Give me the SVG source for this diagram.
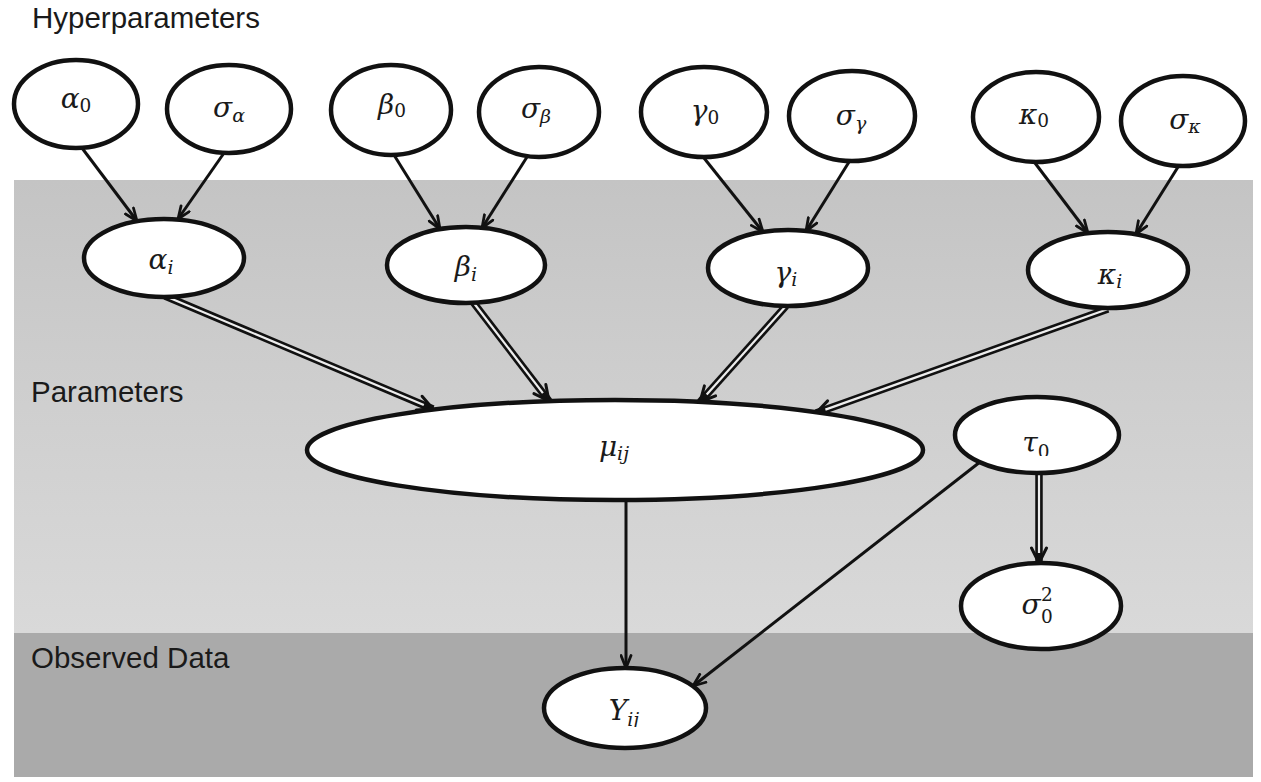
<svg xmlns="http://www.w3.org/2000/svg" width="1261" height="782" viewBox="0 0 1261 782">
  <style>
    .band-label { font-family: "Liberation Sans", Arial, sans-serif; font-size: 29.5px; fill: #1a1a1a; }
    .node ellipse { fill: #ffffff; stroke: #111111; stroke-width: 4.5; }
    .lbl { font-family: "DejaVu Serif", "Liberation Serif", serif; font-style: italic; font-size: 28px; fill: #1a1a1a; }
    .sub { font-size: 19px; }
    .up { font-style: normal; font-size: 18.5px; }
    .single { fill: none; stroke: #111111; stroke-width: 3; marker-end: url(#arr); }
    .dbl-outer { fill: none; stroke: #111111; stroke-width: 7.5; marker-end: url(#arr2); }
    .dbl-inner { fill: none; stroke: #ededed; stroke-width: 2.2; }
  </style>
  <defs>
    <linearGradient id="paramBand" x1="0" y1="0" x2="0" y2="1">
      <stop offset="0" stop-color="#c4c4c4"/>
      <stop offset="0.5" stop-color="#cfcfcf"/>
      <stop offset="1" stop-color="#d9d9d9"/>
    </linearGradient>
    <marker id="arr" viewBox="0 0 15 13" refX="14" refY="6.5" markerWidth="15" markerHeight="13" markerUnits="userSpaceOnUse" orient="auto">
      <path d="M1.5,1.5 L14,6.5 L1.5,11.5" fill="none" stroke="#111111" stroke-width="2.8" stroke-linejoin="round" stroke-linecap="round"/>
    </marker>
    <marker id="arr2" viewBox="0 0 19 19" refX="17" refY="9.5" markerWidth="19" markerHeight="19" markerUnits="userSpaceOnUse" orient="auto">
      <path d="M2,2 L17,9.5 L2,17" fill="none" stroke="#111111" stroke-width="3" stroke-linejoin="round" stroke-linecap="round"/>
    </marker>
    <!-- label boxes that are cut short at the bottom -->
    <clipPath id="clipTau"><rect x="1000" y="415" width="80" height="41"/></clipPath>
    <clipPath id="clipY"><rect x="585" y="685" width="80" height="42"/></clipPath>
  </defs>

  <!-- background layers -->
  <rect x="0" y="0" width="1261" height="782" fill="#ffffff"/>
  <rect x="14" y="180" width="1239" height="453" fill="url(#paramBand)"/>
  <rect x="14" y="633" width="1239" height="144" fill="#aaaaaa"/>

  <text class="band-label" x="32" y="28">Hyperparameters</text>
  <text class="band-label" x="31" y="402">Parameters</text>
  <text class="band-label" x="31" y="668">Observed Data</text>

  <!-- connectors -->
  <g id="connectors">
    <path class="single" d="M82,148 L137,221"/>
    <path class="single" d="M224,153 L178,219"/>
    <path class="single" d="M394,155 L440,229"/>
    <path class="single" d="M527,157 L482,228"/>
    <path class="single" d="M704,158 L763,232"/>
    <path class="single" d="M849,162 L806,231"/>
    <path class="single" d="M1035,163 L1088,233"/>
    <path class="single" d="M1178,167 L1136,234"/>
    <path class="single" d="M626,500 L626,668"/>
    <path class="single" d="M980,462 L693,686"/>

    <path class="dbl-outer" d="M165,296 L433,409"/>
    <path class="dbl-inner" d="M165,296 L423.8,405.1"/>
    <path class="dbl-outer" d="M473,302 L549,401"/>
    <path class="dbl-inner" d="M473,302 L542.9,393.1"/>
    <path class="dbl-outer" d="M786,306 L700,402"/>
    <path class="dbl-inner" d="M786,306 L706.7,394.5"/>
    <path class="dbl-outer" d="M1108,309 L816,413"/>
    <path class="dbl-inner" d="M1108,309 L825.4,409.6"/>
    <path class="dbl-outer" d="M1039,473 L1039,563"/>
    <path class="dbl-inner" d="M1039,473 L1039,553"/>
  </g>

  <!-- hyperparameter nodes -->
  <g id="alpha0" class="node">
    <ellipse cx="76" cy="104" rx="62" ry="44"/>
    <text class="lbl" x="76" y="108" text-anchor="middle">α<tspan class="sub up" dy="4">0</tspan></text>
  </g>
  <g id="sigma-alpha" class="node">
    <ellipse cx="229" cy="109" rx="62" ry="44"/>
    <text class="lbl" x="229" y="117" text-anchor="middle">σ<tspan class="sub" dy="5">α</tspan></text>
  </g>
  <g id="beta0" class="node">
    <ellipse cx="391" cy="110" rx="60" ry="45"/>
    <text class="lbl" x="392" y="114" text-anchor="middle">β<tspan class="sub up" dy="3">0</tspan></text>
  </g>
  <g id="sigma-beta" class="node">
    <ellipse cx="539" cy="112" rx="60" ry="45"/>
    <text class="lbl" x="536" y="118" text-anchor="middle">σ<tspan class="sub" dy="5">β</tspan></text>
  </g>
  <g id="gamma0" class="node">
    <ellipse cx="704" cy="112" rx="63" ry="45"/>
    <text class="lbl" x="705" y="120" text-anchor="middle">γ<tspan class="sub up" dy="4">0</tspan></text>
  </g>
  <g id="sigma-gamma" class="node">
    <ellipse cx="852" cy="116" rx="63" ry="45"/>
    <text class="lbl" x="851" y="125" text-anchor="middle">σ<tspan class="sub" dy="5">γ</tspan></text>
  </g>
  <g id="kappa0" class="node">
    <ellipse cx="1036" cy="117" rx="63" ry="45"/>
    <text class="lbl" x="1034" y="124" text-anchor="middle">κ<tspan class="sub up" dy="3">0</tspan></text>
  </g>
  <g id="sigma-kappa" class="node">
    <ellipse cx="1183" cy="121" rx="62" ry="45"/>
    <text class="lbl" x="1185" y="129" text-anchor="middle">σ<tspan class="sub" dy="4">κ</tspan></text>
  </g>

  <!-- parameter nodes -->
  <g id="alpha-i" class="node">
    <ellipse cx="164" cy="258" rx="80" ry="39"/>
    <text class="lbl" x="161" y="269" text-anchor="middle">α<tspan class="sub" dy="5">i</tspan></text>
  </g>
  <g id="beta-i" class="node">
    <ellipse cx="466" cy="265" rx="79" ry="38"/>
    <text class="lbl" x="466" y="276" text-anchor="middle">β<tspan class="sub" dy="5">i</tspan></text>
  </g>
  <g id="gamma-i" class="node">
    <ellipse cx="788" cy="268" rx="80" ry="38"/>
    <text class="lbl" x="786" y="282" text-anchor="middle">γ<tspan class="sub" dy="4">i</tspan></text>
  </g>
  <g id="kappa-i" class="node">
    <ellipse cx="1108" cy="270" rx="80" ry="38"/>
    <text class="lbl" x="1110" y="284" text-anchor="middle">κ<tspan class="sub" dy="4">i</tspan></text>
  </g>
  <g id="mu-ij" class="node">
    <ellipse cx="615" cy="450" rx="308" ry="50"/>
    <text class="lbl" x="614" y="456" text-anchor="middle">μ<tspan class="sub" dy="4">ij</tspan></text>
  </g>
  <g id="tau0" class="node">
    <ellipse cx="1037" cy="435" rx="82" ry="38"/>
    <text class="lbl" x="1036" y="452" text-anchor="middle" clip-path="url(#clipTau)">τ<tspan class="sub up" dy="6">0</tspan></text>
  </g>
  <g id="sigma0-sq" class="node">
    <ellipse cx="1041" cy="606" rx="80" ry="43"/>
    <text class="lbl" x="1031" y="614" text-anchor="middle">σ</text>
    <text class="lbl up" x="1047" y="601" text-anchor="middle">2</text>
    <text class="lbl up" x="1047" y="623" text-anchor="middle">0</text>
  </g>

  <!-- observed data node -->
  <g id="y-ij" class="node">
    <ellipse cx="625" cy="708" rx="81" ry="40"/>
    <text class="lbl" x="624" y="720" text-anchor="middle" clip-path="url(#clipY)">Y<tspan class="sub" dy="6">ij</tspan></text>
  </g>
</svg>
